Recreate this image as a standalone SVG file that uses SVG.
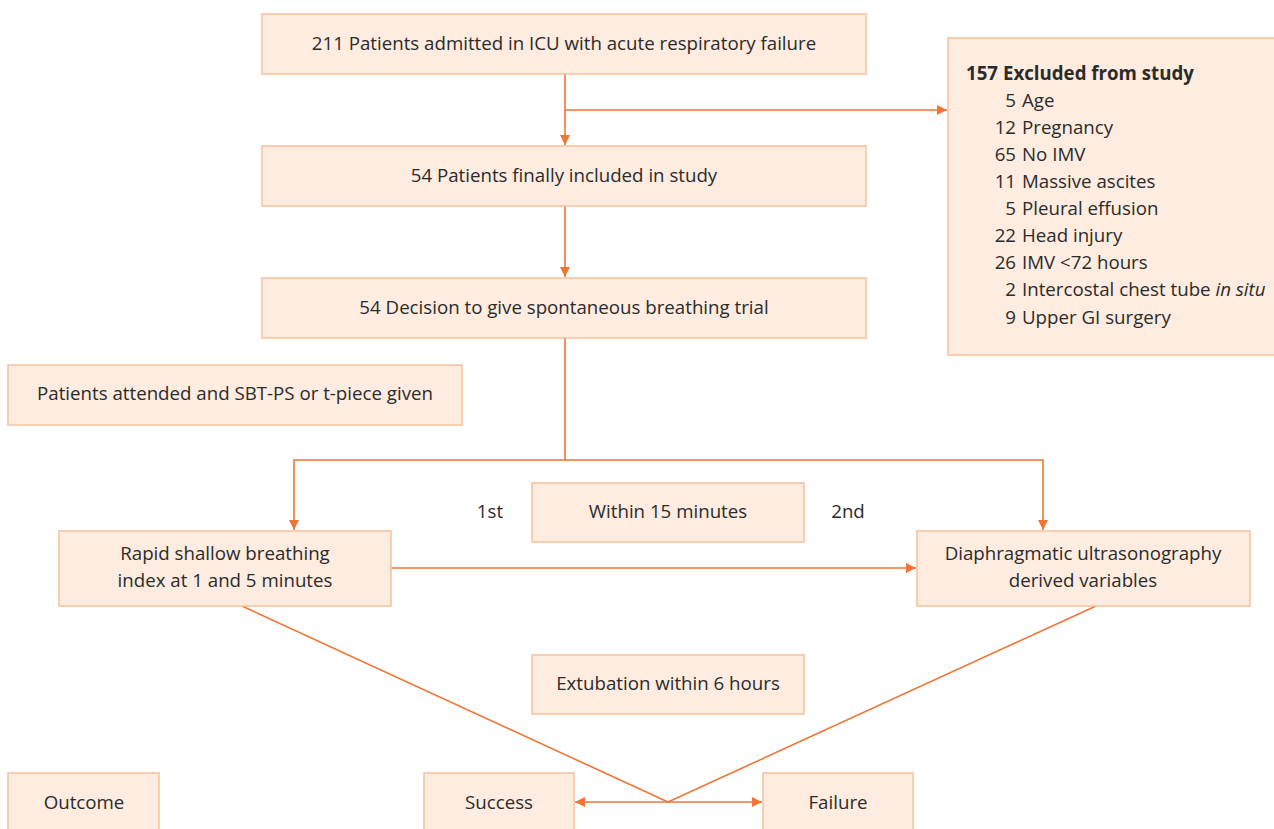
<svg xmlns="http://www.w3.org/2000/svg" width="1274" height="829" viewBox="0 0 1274 829">
<style>
.box{fill:#FDECDF;stroke:#F8C09C;stroke-width:1.5}
.t{font-family:"Open Sans","Liberation Sans",sans-serif;font-size:18.7px;fill:#2b2b2b}
.c{text-anchor:middle}
.e{text-anchor:end}
.ln{fill:none;stroke:#F07535;stroke-width:1.6}
</style>
<defs>
<marker id="ah" viewBox="0 0 10 10" refX="10" refY="5" markerWidth="10" markerHeight="10" markerUnits="userSpaceOnUse" orient="auto-start-reverse">
<path d="M0,0 L10,5 L0,10 z" fill="#F07535"/>
</marker>
</defs>
<rect width="1274" height="829" fill="#ffffff"/>
<g id="connectors">
<line class="ln" x1="565" y1="74" x2="565" y2="145" marker-end="url(#ah)"/>
<line class="ln" x1="565" y1="110" x2="947" y2="110" marker-end="url(#ah)"/>
<line class="ln" x1="565" y1="206" x2="565" y2="277" marker-end="url(#ah)"/>
<polyline class="ln" points="565,338 565,460 294,460 294,530" marker-end="url(#ah)"/>
<polyline class="ln" points="565,460 1043,460 1043,530" marker-end="url(#ah)"/>
<line class="ln" x1="391" y1="568" x2="916" y2="568" marker-end="url(#ah)"/>
<line class="ln" x1="242" y1="606" x2="668" y2="802"/>
<line class="ln" x1="1096" y1="606" x2="668" y2="802"/>
<line class="ln" x1="668" y1="802" x2="575" y2="802" marker-end="url(#ah)"/>
<line class="ln" x1="668" y1="802" x2="762" y2="802" marker-end="url(#ah)"/>
</g>
<g id="n1"><rect class="box" x="262" y="14" width="604" height="60"/><text class="t c" x="564" y="50">211 Patients admitted in ICU with acute respiratory failure</text></g>
<g id="excluded"><rect class="box" x="948" y="38" width="330" height="317"/>
<text class="t" x="966" y="80" font-weight="bold">157 Excluded from study</text>
<text class="t e" x="1016" y="107">5</text><text class="t" x="1022" y="107">Age</text>
<text class="t e" x="1016" y="134">12</text><text class="t" x="1022" y="134">Pregnancy</text>
<text class="t e" x="1016" y="161">65</text><text class="t" x="1022" y="161">No IMV</text>
<text class="t e" x="1016" y="188">11</text><text class="t" x="1022" y="188">Massive ascites</text>
<text class="t e" x="1016" y="215">5</text><text class="t" x="1022" y="215">Pleural effusion</text>
<text class="t e" x="1016" y="242">22</text><text class="t" x="1022" y="242">Head injury</text>
<text class="t e" x="1016" y="269">26</text><text class="t" x="1022" y="269">IMV &lt;72 hours</text>
<text class="t e" x="1016" y="296">2</text><text class="t" x="1022" y="296">Intercostal chest tube <tspan font-style="italic">in situ</tspan></text>
<text class="t e" x="1016" y="324">9</text><text class="t" x="1022" y="324">Upper GI surgery</text>
</g>
<g id="n2"><rect class="box" x="262" y="146" width="604" height="60"/><text class="t c" x="564" y="182">54 Patients finally included in study</text></g>
<g id="n3"><rect class="box" x="262" y="278" width="604" height="60"/><text class="t c" x="564" y="314">54 Decision to give spontaneous breathing trial</text></g>
<g id="left"><rect class="box" x="8" y="365" width="454" height="60"/><text class="t c" x="235" y="400">Patients attended and SBT-PS or t-piece given</text></g>
<g id="within"><rect class="box" x="532" y="483" width="272" height="59"/><text class="t c" x="668" y="518">Within 15 minutes</text></g>
<text class="t c" x="490" y="518">1st</text>
<text class="t c" x="848" y="518">2nd</text>
<g id="rsbi"><rect class="box" x="59" y="531" width="332" height="75"/><text class="t c" x="225" y="560">Rapid shallow breathing</text><text class="t c" x="225" y="587">index at 1 and 5 minutes</text></g>
<g id="diaph"><rect class="box" x="917" y="531" width="333" height="75"/><text class="t c" x="1083" y="560">Diaphragmatic ultrasonography</text><text class="t c" x="1083" y="587">derived variables</text></g>
<g id="extub"><rect class="box" x="532" y="655" width="272" height="59"/><text class="t c" x="668" y="690">Extubation within 6 hours</text></g>
<g id="outcome"><rect class="box" x="8" y="773" width="151" height="60"/><text class="t c" x="84" y="809">Outcome</text></g>
<g id="success"><rect class="box" x="424" y="773" width="150" height="60"/><text class="t c" x="499" y="809">Success</text></g>
<g id="failure"><rect class="box" x="763" y="773" width="150" height="60"/><text class="t c" x="838" y="809">Failure</text></g>
</svg>
